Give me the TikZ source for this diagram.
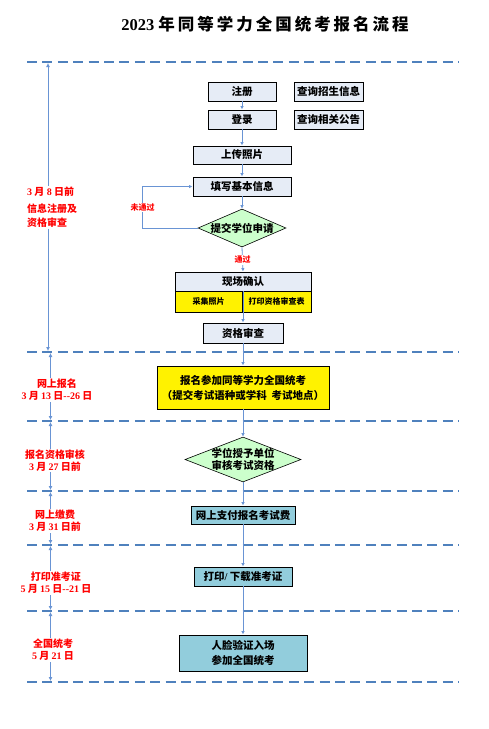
\documentclass[tikz,border=0pt]{standalone}
\usepackage{fontspec}
\setmainfont{Liberation Serif}
\newfontfamily\cjk{Noto Sans CJK SC}
\newfontfamily\cjkt{Noto Sans CJK SC}[LetterSpace=18]
\newfontfamily\ser{Liberation Serif}
\newcommand\sn[1]{{\ser\bfseries #1}}
\usetikzlibrary{shapes.geometric,arrows.meta,shadows}
\definecolor{dashblue}{RGB}{79,129,189}
\definecolor{connblue}{RGB}{105,148,212}
\definecolor{boxfill}{RGB}{230,236,246}
\definecolor{diagreen}{RGB}{204,255,204}
\definecolor{aquafill}{RGB}{146,205,220}
\tikzset{
  shd/.style={general shadow={fill=black!45, shadow xshift=1.2pt, shadow yshift=-1.2pt}},
  stepbox/.style={draw=black, line width=0.9pt, fill=boxfill, inner sep=0pt, shd,
    font=\cjk\bfseries\fontsize{10.5}{15}\selectfont, align=center},
  cellbox/.style={draw=black, line width=0.9pt, fill=yellow, inner sep=0pt,
    font=\cjk\bfseries\fontsize{8}{10}\selectfont},
  decide/.style={diamond, draw=black, line width=0.6pt, fill=diagreen, inner sep=0pt},
  dlabel/.style={font=\cjk\bfseries\fontsize{10.5}{12}\selectfont, align=center},
  conn/.style={draw=connblue, line width=0.8pt, -{Latex[length=3.5pt,width=3.5pt]}},
  side/.style={draw=connblue, line width=0.9pt, {Latex[length=4pt,width=4pt]}-{Latex[length=4pt,width=4pt]}},
  dline/.style={draw=dashblue, line width=2.4pt, dash pattern=on 10pt off 5.4pt},
  redlab/.style={text=red, fill=white, inner sep=1pt, font=\cjk\bfseries\fontsize{10}{12}\selectfont, align=center},
  smallred/.style={text=red, fill=white, inner sep=0.8pt, font=\cjk\bfseries\fontsize{8}{10}\selectfont},
}
\begin{document}
\begin{tikzpicture}[x=1pt,y=-1pt]
\useasboundingbox[fill=white] (0,0) rectangle (488,729);
% title
\node[font=\fontsize{16.5}{18}\selectfont] (title) at (265,24) {\sn{2023} {\cjkt\bfseries 年同等学力全国统考报名流程}};
% dashed separators
\foreach \yy in {62,352,421,491,545,611,682}{
  \draw[dline] (27,\yy) -- (459,\yy);
}
% left side arrows
\coordinate (s0) at (48,63);  \coordinate (s1) at (48,351);
\coordinate (t1) at (50.5,353); \coordinate (t2) at (50.5,420);
\coordinate (u1) at (50.5,422); \coordinate (u2) at (50.5,490);
\coordinate (v1) at (50.5,492); \coordinate (v2) at (50.5,544);
\coordinate (w1) at (50.5,546); \coordinate (w2) at (50.5,610);
\coordinate (z1) at (50.5,612); \coordinate (z2) at (50.5,681);
\draw[side] (s0) -- (s1);
\draw[side] (t1) -- (t2);
\draw[side] (u1) -- (u2);
\draw[side] (v1) -- (v2);
\draw[side] (w1) -- (w2);
\draw[side] (z1) -- (z2);
% left labels
\node[redlab, align=left, anchor=north west] (l1) at (26,186) {\sn{3} 月 \sn{8} 日前\\[5pt]信息注册及\\[2pt]资格审查};
\node[redlab] (l2) at (57,390) {网上报名\\\sn{3} 月 \sn{13} 日\sn{--26} 日};
\node[redlab] (l3) at (55,460.5) {报名资格审核\\\sn{3} 月 \sn{27} 日前};
\node[redlab] (l4) at (55,521) {网上缴费\\\sn{3} 月 \sn{31} 日前};
\node[redlab] (l5) at (56,583) {打印准考证\\\sn{5} 月 \sn{15} 日\sn{--21} 日};
\node[redlab] (l6) at (53,650) {全国统考\\\sn{5} 月 \sn{21} 日};
% main boxes
\node[stepbox, minimum width=68pt, minimum height=19pt] (zc) at (242,91.5) {注册};
\node[stepbox, minimum width=68pt, minimum height=19pt] (dl) at (242,119.5) {登录};
\node[stepbox, minimum width=69pt, minimum height=19pt] (cx1) at (328.5,91.5) {查询招生信息};
\node[stepbox, minimum width=69pt, minimum height=19pt] (cx2) at (328.5,119.5) {查询相关公告};
\node[stepbox, minimum width=98pt, minimum height=18pt] (sc) at (242,155) {上传照片};
\node[stepbox, minimum width=98pt, minimum height=19pt] (tx) at (242,186.5) {填写基本信息};
\node[decide, minimum width=88pt, minimum height=38pt, label={[dlabel]center:提交学位申请}] (d1) at (242,228) {};
% on-site confirmation
\node[stepbox, minimum width=136pt, minimum height=19pt] (xc) at (243,281.5) {现场确认};
\node[cellbox, minimum width=67pt, minimum height=21pt] (cj) at (208.5,301.5) {采集照片};
\node[cellbox, minimum width=69pt, minimum height=21pt] (dy) at (276.5,301.5) {打印资格审查表};
\node[stepbox, minimum width=80pt, minimum height=20pt] (zg) at (243,333) {资格审查};
% later steps
\node[stepbox, fill=yellow, minimum width=172pt, minimum height=43pt] (bm) at (243,387.5) {报名参加同等学力全国统考\\（提交考试语种或学科\ \ 考试地点）};
\node[decide, minimum width=116pt, minimum height=45pt, label={[dlabel]center:学位授予单位\\审核考试资格}] (d2) at (243,459.5) {};
\node[stepbox, fill=aquafill, minimum width=104pt, minimum height=18pt] (zf) at (243,515) {网上支付报名考试费};
\node[stepbox, fill=aquafill, minimum width=98pt, minimum height=19pt] (dy2) at (243,576.5) {打印\sn{/} 下载准考证};
\node[stepbox, fill=aquafill, minimum width=128pt, minimum height=36pt] (rl) at (243,653) {人脸验证入场\\参加全国统考};
% connectors
\draw[conn] (zc) -- (dl);
\draw[conn] (dl) -- (sc);
\draw[conn] (sc) -- (tx);
\draw[conn] (tx) -- (d1);
\draw[conn] (d1.west) -- ++(-55,0) |- (tx.west) node[pos=0.25, smallred] (wtg) {未通过};
\draw[conn] (d1.south) -- (xc.north) node[midway, smallred, yshift=-0.5pt] (tg) {通过};
\draw[conn] (xc.south) -- (zg.north);
\draw[conn] (zg) -- (bm);
\draw[conn] (bm) -- (d2);
\draw[conn] (d2) -- (zf);
\draw[conn] (zf) -- (dy2);
\draw[conn] (dy2) -- (rl);
\end{tikzpicture}
\end{document}
